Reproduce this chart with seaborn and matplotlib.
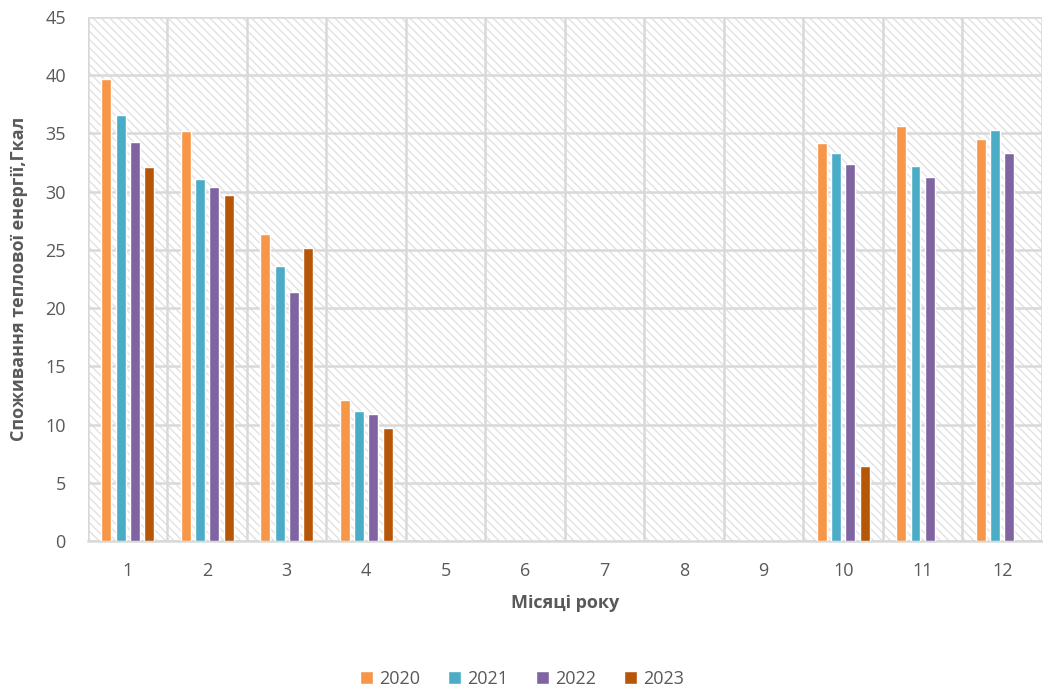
import numpy as np
import pandas as pd
import matplotlib
matplotlib.use("Agg")
import matplotlib.pyplot as plt
import seaborn as sns
from matplotlib.patches import Rectangle

# -----------------------------
# Data
# -----------------------------
months = [1, 2, 3, 4, 5, 6, 7, 8, 9, 10, 11, 12]
years = ["2020", "2021", "2022", "2023"]
v2020 = [39.7, 35.2, 26.4, 12.1, 0, 0, 0, 0, 0, 34.2, 35.6, 34.5]
v2021 = [36.6, 31.1, 23.6, 11.2, 0, 0, 0, 0, 0, 33.3, 32.2, 35.3]
v2022 = [34.3, 30.4, 21.4, 10.9, 0, 0, 0, 0, 0, 32.4, 31.3, 33.3]
v2023 = [32.1, 29.7, 25.2, 9.7, 0, 0, 0, 0, 0, 6.45, np.nan, np.nan]
colors = ["#F79646", "#4BACC6", "#8064A2", "#B65708"]

y_label = "Споживання теплової енергії,Гкал"
x_label = "Місяці року"

# long format for seaborn
df = pd.DataFrame({
    "month": [str(m) for m in months] * 4,
    "year": np.repeat(years, len(months)),
    "value": v2020 + v2021 + v2022 + v2023,
})

# -----------------------------
# Plot
# -----------------------------
sns.set_style("white")
plt.rcParams["font.family"] = ["Open Sans", "DejaVu Sans"]
plt.rcParams["hatch.linewidth"] = 1.0
plt.rcParams["hatch.color"] = "#e2e2e2"

fig = plt.figure(figsize=(10.43, 6.88), dpi=100)
ax = fig.add_axes([88 / 1043, 1 - 541 / 688, 1 - 88 / 1043 - 0.001, (541 - 17) / 688])

# hatched plot-area background
ax.add_patch(Rectangle((0, 0), 1, 1, transform=ax.transAxes, facecolor="white",
                       edgecolor="#e2e2e2", hatch="\\\\\\\\", linewidth=0, zorder=0))

sns.barplot(data=df, x="month", y="value", hue="year", palette=colors,
            width=0.725, gap=0.31, saturation=1, errorbar=None, ax=ax, zorder=3)

ax.set_ylim(0, 45)
ax.set_xlim(-0.5, 11.5)
ax.set_yticks(range(0, 46, 5))

# grid: horizontal at major y ticks, vertical between categories
ax.set_xticks(np.arange(-0.5, 12, 1), minor=True)
ax.grid(axis="y", which="major", color="#d9d9d9", linewidth=1.8, zorder=1)
ax.grid(axis="x", which="minor", color="#d9d9d9", linewidth=1.8, zorder=1)
ax.grid(axis="x", which="major", visible=False)
ax.set_axisbelow(True)

for side in ["top", "right", "left"]:
    ax.spines[side].set_visible(False)
ax.spines["bottom"].set_color("#d9d9d9")
ax.spines["bottom"].set_linewidth(1.8)

ax.tick_params(axis="both", which="both", length=0, labelsize=13, labelcolor="#595959")
ax.tick_params(axis="y", pad=16)
ax.tick_params(axis="x", pad=15)

ax.set_xlabel(x_label, fontsize=13, fontweight="bold", color="#595959", labelpad=10)
ax.set_ylabel(y_label, fontsize=13, fontweight="bold", color="#595959", labelpad=12)

ax.legend(loc="upper center", bbox_to_anchor=(0.455, -0.215), ncol=4, frameon=False,
          fontsize=13, labelcolor="#595959", handlelength=0.75, handleheight=0.75,
          handletextpad=0.35, columnspacing=1.5)

plt.savefig("out.png", dpi=100)
plt.close()
